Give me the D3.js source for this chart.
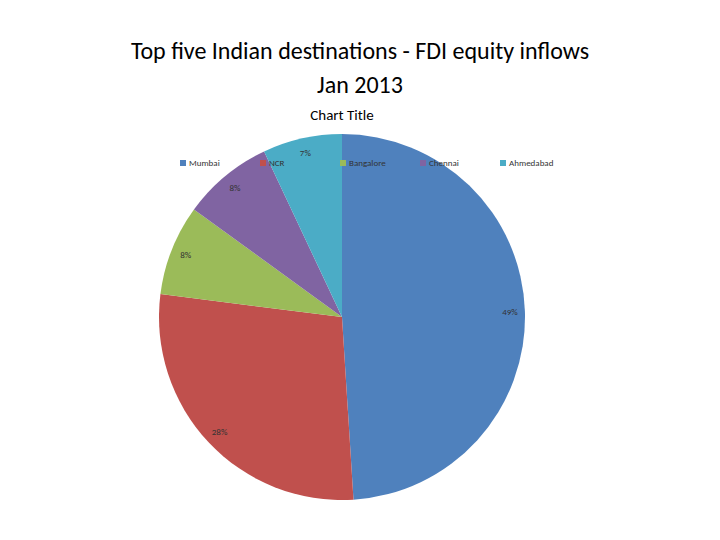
<!DOCTYPE html>
<html>
<head>
<meta charset="utf-8">
<script src="https://cdn.jsdelivr.net/npm/d3@7"></script>
<style>
  body { margin: 0; background: #fff; }
  text { font-family: Calibri, "Liberation Sans", "Open Sans", sans-serif; }
</style>
</head>
<body>
<div id="chart"></div>
<script>
const cities = ["Mumbai", "NCR", "Bangalore", "Chennai", "Ahmedabad"];
const shares = [49, 28, 8, 8, 7];
const colors = ["#4f81bd", "#c0504d", "#9bbb59", "#8064a2", "#4bacc6"];

const width = 720, height = 540;
const cx = 342, cy = 317, radius = 183;

const svg = d3.select("#chart").append("svg")
    .attr("width", width)
    .attr("height", height);

// title
svg.append("text").attr("x", 360).attr("y", 59).attr("text-anchor", "middle")
    .attr("font-size", 24).text("Top five Indian destinations - FDI equity inflows");
svg.append("text").attr("x", 360).attr("y", 93).attr("text-anchor", "middle")
    .attr("font-size", 24).text("Jan 2013");
svg.append("text").attr("x", 342).attr("y", 120).attr("text-anchor", "middle")
    .attr("font-size", 15).text("Chart Title");

const color = d3.scaleOrdinal().domain(cities).range(colors);

const pie = d3.pie().sort(null).value(d => d.v);
const arcs = pie(cities.map((c, i) => ({ c, v: shares[i] })));
const arc = d3.arc().innerRadius(0).outerRadius(radius);
const labelArc = d3.arc().innerRadius(168).outerRadius(168);

const g = svg.append("g").attr("transform", `translate(${cx},${cy})`);
g.selectAll("path").data(arcs).join("path")
    .attr("d", arc)
    .attr("fill", d => color(d.data.c));

g.selectAll("text.lbl").data(arcs).join("text")
    .attr("class", "lbl")
    .attr("transform", d => `translate(${labelArc.centroid(d)})`)
    .attr("text-anchor", "middle")
    .attr("dy", "0.35em")
    .attr("font-size", 9)
    .attr("fill", "#333")
    .text(d => d.data.v + "%");

// legend
const legendX = d3.scalePoint().domain(cities).range([180, 500]);
const lg = svg.append("g").selectAll("g").data(cities).join("g")
    .attr("transform", d => `translate(${legendX(d)},163)`);
lg.append("rect").attr("x", 0).attr("y", -3).attr("width", 6).attr("height", 6)
    .attr("fill", d => color(d));
lg.append("text").attr("x", 9).attr("dy", "0.35em").attr("font-size", 9)
    .attr("fill", "#333").text(d => d);
</script>
</body>
</html>
